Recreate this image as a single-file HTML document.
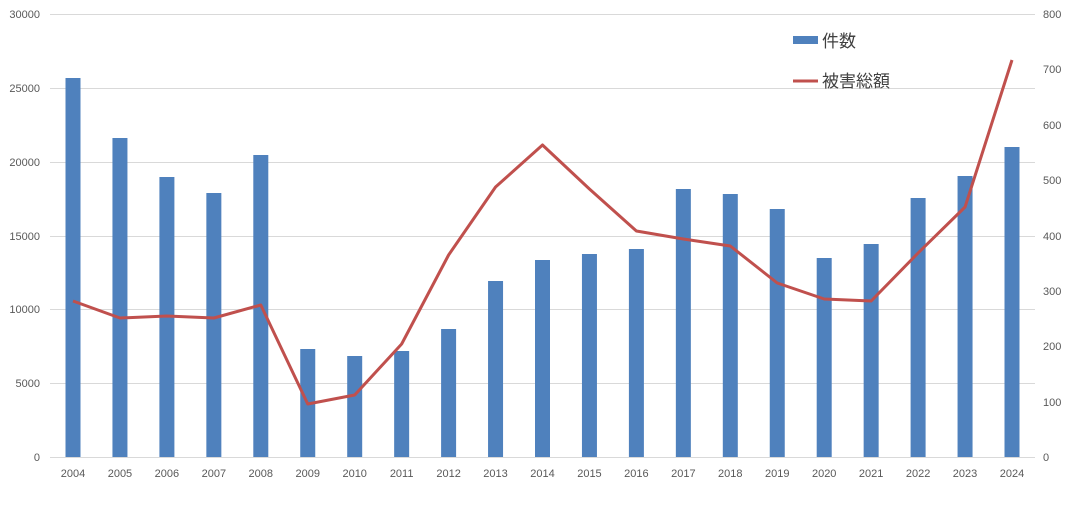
<!DOCTYPE html>
<html><head><meta charset="utf-8"><style>
html,body{margin:0;padding:0;background:#fff;}
svg{display:block;}
text{font-family:"Liberation Sans","Noto Sans CJK JP",sans-serif;fill:#595959;}
</style></head><body>
<svg width="1073" height="528" viewBox="0 0 1073 528" xmlns="http://www.w3.org/2000/svg">
<g stroke="#d9d9d9" stroke-width="1">
<line x1="50" x2="1035" y1="14.5" y2="14.5"/>
<line x1="50" x2="1035" y1="88.5" y2="88.5"/>
<line x1="50" x2="1035" y1="162.5" y2="162.5"/>
<line x1="50" x2="1035" y1="236.5" y2="236.5"/>
<line x1="50" x2="1035" y1="309.5" y2="309.5"/>
<line x1="50" x2="1035" y1="383.5" y2="383.5"/>
<line x1="50" x2="1035" y1="457.5" y2="457.5"/>
</g>
<g font-size="11" text-anchor="end">
<text x="40" y="18">30000</text>
<text x="40" y="92">25000</text>
<text x="40" y="166">20000</text>
<text x="40" y="240">15000</text>
<text x="40" y="313">10000</text>
<text x="40" y="387">5000</text>
<text x="40" y="461">0</text>
</g>
<g font-size="11" text-anchor="start">
<text x="1043" y="18">800</text>
<text x="1043" y="73">700</text>
<text x="1043" y="129">600</text>
<text x="1043" y="184">500</text>
<text x="1043" y="240">400</text>
<text x="1043" y="295">300</text>
<text x="1043" y="350">200</text>
<text x="1043" y="406">100</text>
<text x="1043" y="461">0</text>
</g>
<g fill="#4f81bd" id="bars"></g>
<polyline id="line" fill="none" stroke="#c0504d" stroke-width="3" stroke-linejoin="round"/>
<g font-size="11" text-anchor="middle" id="xl"></g>
<rect x="793" y="36" width="25" height="8" fill="#4f81bd"/>
<text x="822" y="47" font-size="17" style="fill:#404040">件数</text>
<line x1="793" x2="818" y1="81" y2="81" stroke="#c0504d" stroke-width="3"/>
<text x="822" y="87" font-size="17" style="fill:#404040">被害総額</text>
</svg>
<script>
var tops=[78,138,177,193,155,349,356,351,329,281,260,254,249,189,194,209,258,244,198,176,147];
var ly=[301,318,316,318,305,404,395,344,255,187,145,189,231,239,246,283,299,301,253,207,60];
var ns="http://www.w3.org/2000/svg",b=document.getElementById('bars'),xl=document.getElementById('xl'),pts=[];
for(var i=0;i<21;i++){var x=73+i*46.95;
var r=document.createElementNS(ns,'rect');r.setAttribute('x',x-7.5);r.setAttribute('y',tops[i]);r.setAttribute('width',15);r.setAttribute('height',457-tops[i]);b.appendChild(r);
var t=document.createElementNS(ns,'text');t.setAttribute('x',x);t.setAttribute('y',477);t.textContent=2004+i;xl.appendChild(t);
pts.push(x+','+ly[i]);}
document.getElementById('line').setAttribute('points',pts.join(' '));
</script>
</body></html>
